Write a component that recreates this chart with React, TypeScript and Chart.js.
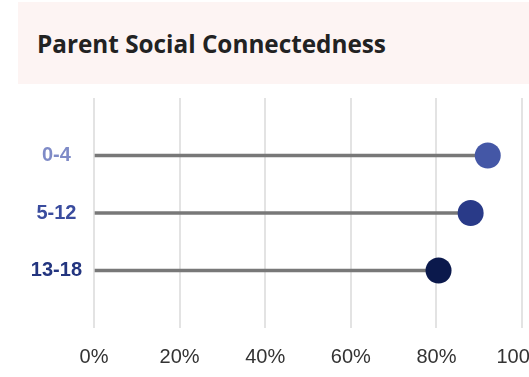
import React, { useEffect, useRef } from "react";
import { Chart, registerables } from "chart.js";

Chart.register(...registerables);

const titleText = "Parent Social Connectedness";
const categories = ["0-4", "5-12", "13-18"];
const values = [92, 88, 80.5];
const dotColors = ["#4457a6", "#293a88", "#0b194c"];
const labelColors = ["#7f8bc7", "#3a4c9e", "#23357f"];
const xTicks = [0, 20, 40, 60, 80, 100];

const tickFamily = "'Liberation Sans', Arial, sans-serif";

export default function App() {
  const ref = useRef<HTMLCanvasElement | null>(null);

  useEffect(() => {
    if (!ref.current) return;
    const labels = ["", ...categories, ""];
    const padded = [null, ...values, null];
    const chart = new Chart(ref.current, {
      type: "bar",
      data: {
        labels,
        datasets: [
          {
            type: "line",
            indexAxis: "y",
            data: padded,
            showLine: false,
            pointRadius: 13,
            pointHoverRadius: 13,
            pointBorderWidth: 0,
            pointBackgroundColor: ["#000", ...dotColors, "#000"],
            order: 0,
            clip: false,
          } as any,
          {
            type: "bar",
            indexAxis: "y",
            data: padded,
            backgroundColor: "#787878",
            barThickness: 3,
            order: 1,
          } as any,
        ],
      },
      options: {
        indexAxis: "y",
        responsive: false,
        animation: false,
        events: [],
        layout: { autoPadding: false, padding: { top: 8, bottom: 0, left: 0, right: 38 } },
        plugins: { legend: { display: false }, tooltip: { enabled: false } },
        scales: {
          x: {
            type: "linear",
            min: 0,
            max: 100,
            afterBuildTicks: (scale: any) => {
              scale.ticks = xTicks.map((v) => ({ value: v }));
            },
            afterFit: (scale: any) => {
              scale.height = 49;
              scale.paddingLeft = 0;
              scale.paddingRight = 0;
            },
            ticks: {
              callback: (v: any) => v + "%",
              color: "#333333",
              font: { family: tickFamily, size: 20 },
              padding: 17,
            },
            grid: { color: "#e3e3e3", lineWidth: 2, drawTicks: false },
            border: { display: false },
          },
          y: {
            type: "category",
            offset: false,
            afterFit: (scale: any) => {
              scale.width = 94;
              scale.paddingTop = 0;
              scale.paddingBottom = 0;
            },
            ticks: {
              crossAlign: "center",
              padding: 12,
              autoSkip: false,
              color: (ctx: any) => labelColors[ctx.index - 1] || "#000",
              font: { family: tickFamily, size: 20, weight: "bold" },
            },
            grid: { display: false, drawTicks: false },
            border: { display: false },
          },
        },
      } as any,
    });
    return () => chart.destroy();
  }, []);

  return (
    <div style={{ position: "absolute", left: 0, top: 0, width: 529, height: 377, overflow: "hidden", background: "#fff" }}>
      <div style={{ position: "absolute", left: 18, top: 2, width: 520, height: 82, background: "#fdf4f3" }}>
        <span
          style={{
            position: "absolute",
            left: 19,
            top: 30,
            fontFamily: "'Open Sans', 'Noto Sans', sans-serif",
            fontWeight: 700,
            fontSize: 24.3,
            lineHeight: "24px",
            color: "#222222",
            whiteSpace: "nowrap",
          }}
        >
          {titleText}
        </span>
      </div>
      <canvas ref={ref} width={560} height={287} style={{ position: "absolute", left: 0, top: 90, width: 560, height: 287 }} />
    </div>
  );
}
